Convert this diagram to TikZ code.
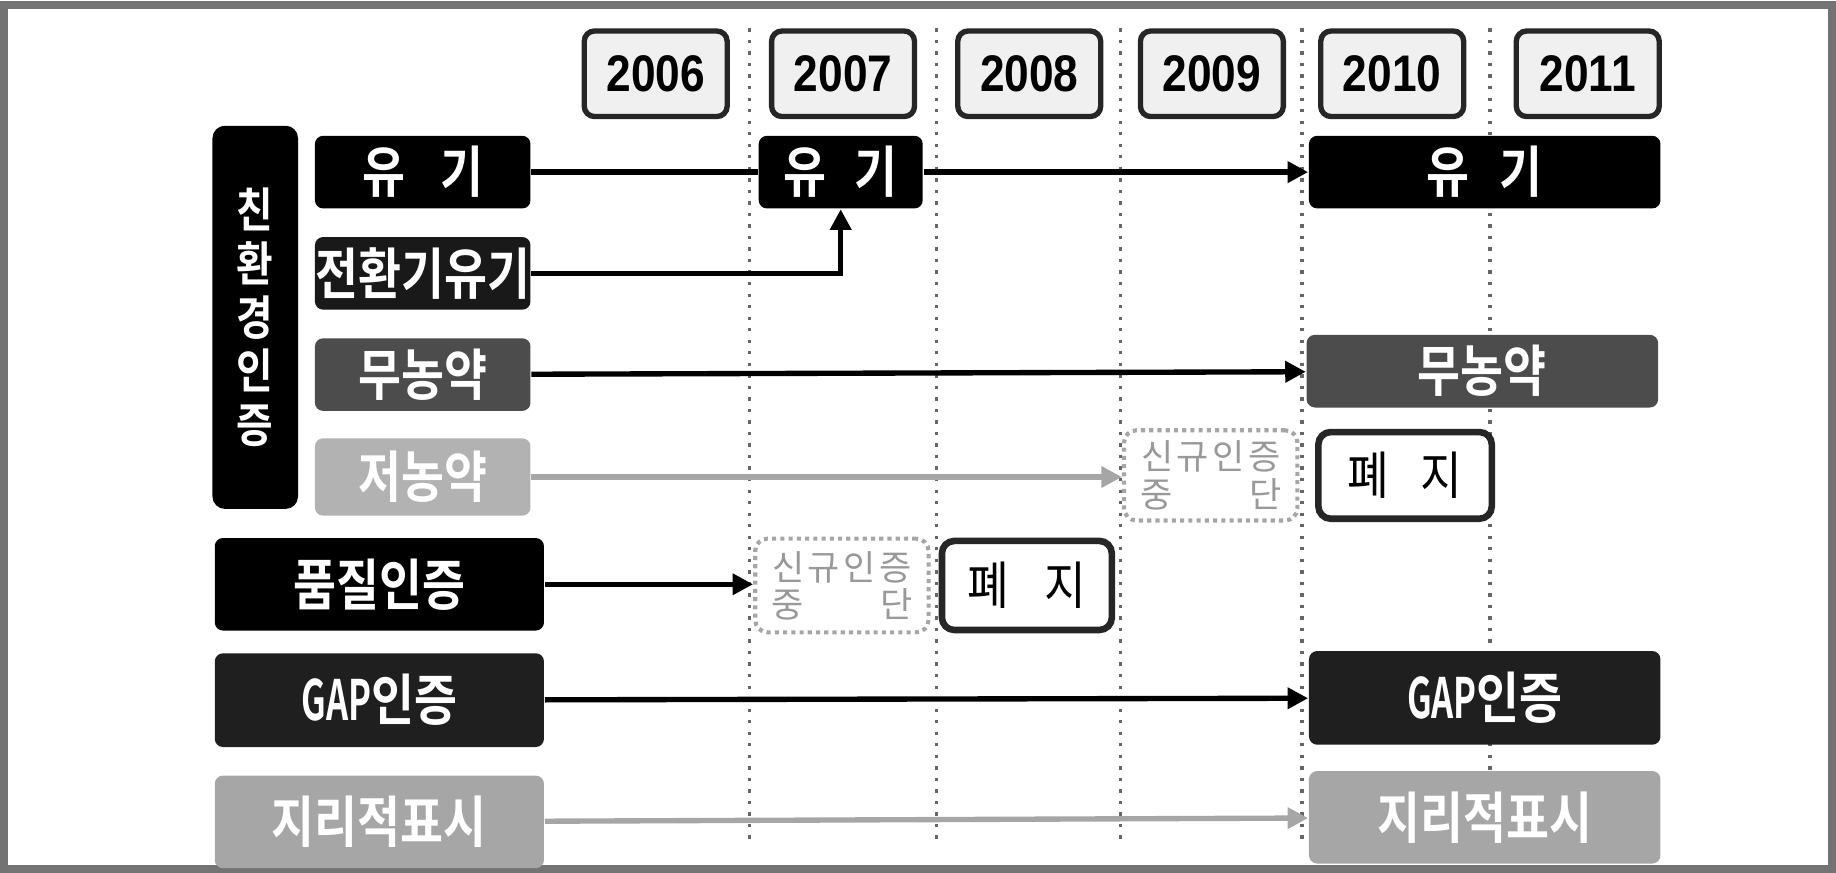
\documentclass[tikz,border=0pt]{standalone}
\usepackage{fontspec}
\setmainfont{Noto Sans CJK KR}
\newfontfamily\krb{Noto Sans CJK KR Bold}[FakeStretch=0.84]
\newfontfamily\gapfont{Noto Sans CJK KR Bold}[FakeStretch=0.62]
\newfontfamily\kr{Noto Sans CJK KR}[FakeStretch=0.88]
\newfontfamily\krstop{Noto Sans CJK KR}[LetterSpace=10]
\newfontfamily\yearfont{Liberation Sans}[FakeStretch=0.86]
\usetikzlibrary{positioning}
\usetikzlibrary{arrows.meta}
\usetikzlibrary{calc}

\tikzset{
  yearbox/.style={draw=black!85, line width=1.3pt, rounded corners=2.5pt, fill=black!6,
    minimum width=1.22cm, minimum height=0.73cm, inner sep=0pt,
    font=\yearfont\bfseries\fontsize{12.5}{14}\selectfont},
  cert/.style={rounded corners=2pt, text=white, inner sep=0pt, minimum height=0.62cm,
    font=\krb\fontsize{13.5}{15}\selectfont},
  rowbox/.style={cert, minimum width=1.84cm},
  bigbox/.style={cert, minimum width=2.81cm, minimum height=0.79cm},
  newbox/.style={cert, minimum width=3.0cm},
  stopbox/.style={draw=black!35, densely dotted, line width=1pt, rounded corners=3pt,
    fill=white, text=black!40, minimum width=1.48cm, minimum height=0.77cm,
    inner sep=0pt, align=center, font=\krstop\fontsize{8.5}{9}\selectfont},
  endbox/.style={draw=black!85, line width=1.6pt, rounded corners=3pt, fill=white,
    text=black, minimum width=1.48cm, minimum height=0.74cm, inner sep=0pt,
    font=\kr\fontsize{12.5}{14}\selectfont},
  link/.style={line width=1.3pt, black},
  arr/.style={link, -{Triangle[length=5pt,width=5pt]}},
  faint/.style={arr, black!35},
  gridline/.style={black!60, dotted, line width=0.8pt},
}

\begin{document}
\begin{tikzpicture}[x=0.01cm, y=-0.01cm]
  \useasboundingbox (0,0) rectangle (1568,745);
  \draw[black!55, line width=2pt] (3,4) rectangle (1565,742);

  % Years
  \foreach \yr/\x in {2006/560, 2007/720, 2008/879, 2009/1035, 2010/1189, 2011/1356}
    \node[yearbox] (y_\yr) at (\x,63) {\yr};

  \foreach \a/\b in {2006/2007, 2007/2008, 2008/2009, 2009/2010, 2010/2011}
    \draw[gridline] ($(y_\a.north east)!0.5!(y_\b.north west)$) -- ++(0,695);

  % Define nodes
  \node[fill=black, rounded corners=3pt, minimum width=0.73cm, minimum height=3.27cm,
    text=white, align=center, font=\krb\fontsize{11.5}{13}\selectfont] (eco) at (218,271)
    {친\\환\\경\\인\\증};

  \node[rowbox, fill=black] (org_l) at (361,147) {유\hspace{0.63em}기};
  \node[rowbox, fill=black!90, below=0.23cm of org_l] (trans_l) {전환기유기};
  \node[rowbox, fill=black!70, below=0.23cm of trans_l] (nopest_l) {무농약};
  \node[rowbox, fill=black!30, below=0.22cm of nopest_l, minimum height=0.66cm] (lowpest_l) {저농약};

  \node[bigbox, fill=black] (qual_l) at (324,499) {품질인증};
  \node[bigbox, fill=black!88, below=0.18cm of qual_l, minimum height=0.8cm] (gap_l) {{\gapfont GAP}인증};
  \node[bigbox, fill=black!35, below=0.23cm of gap_l] (geo_l) {지리적표시};

  \node[cert, fill=black, minimum width=1.4cm] (org_07) at (718,147) {유\hspace{0.5em}기};
  \node[newbox, fill=black] (org_10) at (1268,147) {유\hspace{0.55em}기};
  \node[newbox, fill=black!70] (nopest_10) at (1266,317) {무농약};
  \node[stopbox] (stop_09) at (1034,406) {신규인증\\중\hspace{2.2em}단};
  \node[endbox] (end_10) at (1200,406) {폐\hspace{0.6em}지};
  \node[stopbox, minimum height=0.8cm] (stop_07) at (719,500) {신규인증\\중\hspace{2.2em}단};
  \node[endbox, minimum width=1.45cm, minimum height=0.76cm] (end_08) at (877,500) {폐\hspace{0.7em}지};
  \node[newbox, fill=black!88, minimum height=0.8cm] (gap_10) at (1268,596) {{\gapfont GAP}인증};
  \node[newbox, fill=black!35, minimum height=0.79cm] (geo_10) at (1268,698) {지리적표시};

  % Connect nodes
  \draw[link] (org_l) -- (org_07);
  \draw[arr] (org_07) -- (org_10);
  \draw[arr] (trans_l) -| (org_07);
  \draw[arr] (nopest_l) -- (nopest_10);
  \draw[faint] (lowpest_l) -- (lowpest_l -| stop_09.west);
  \draw[arr] (qual_l) -- (qual_l -| stop_07.west);
  \draw[arr] (gap_l) -- (gap_10);
  \draw[faint] (geo_l) -- (geo_10);

\end{tikzpicture}
\end{document}
